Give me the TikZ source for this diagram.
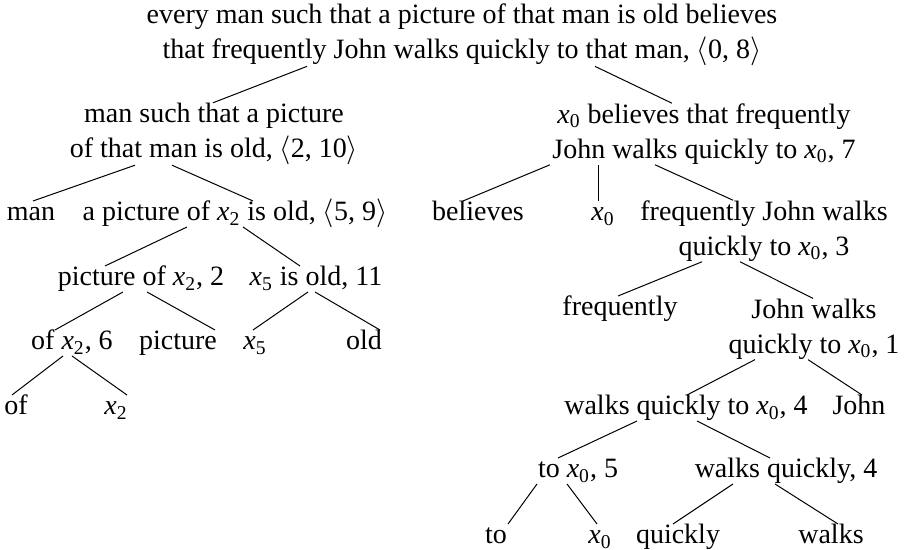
\documentclass[tikz,border=0pt]{standalone}
\usepackage{fontspec}
\setmainfont{Liberation Serif}
\newcommand{\xsub}[1]{\textit{x}\textsubscript{#1}}
\newcommand{\lang}{\ensuremath{\langle}}
\newcommand{\rang}{\ensuremath{\rangle}}
\tikzset{
  lbl/.style={inner sep=0pt, font=\fontsize{14}{17.5}\selectfont, align=center},
  one/.style={lbl, text height=9.8pt, text depth=2.8pt},
  link/.style={line width=0.5pt}
}
\begin{document}
\begin{tikzpicture}[x=0.5pt,y=-0.5pt]
  \useasboundingbox (0,0) rectangle (906,550);
  % top of the analysis
  \node[lbl] (root) at (462,35) {every man such that a picture of that man is old believes\\that frequently John walks quickly to that man, \lang0, 8\rang};
  \node[lbl] (mst) at (214,134) {man such that a picture\\of that man is old, \lang2, 10\rang};
  \node[lbl] (bel) at (704,134) {\xsub{0} believes that frequently\\John walks quickly to \xsub{0}, 7};
  % left branch
  \node[one] (man) at (31,214) {man};
  \node[one] (apic) at (235,214) {a picture of \xsub{2} is old, \lang5, 9\rang};
  \node[one] (picof) at (141,279) {picture of \xsub{2}, 2};
  \node[one] (xold) at (316,279) {\xsub{5} is old, 11};
  \node[one] (ofx) at (72,343) {of \xsub{2}, 6};
  \node[one] (pic) at (178,343) {picture};
  \node[one] (xfive) at (255,343) {\xsub{5}};
  \node[one] (old) at (364,343) {old};
  \node[one] (of) at (16,408) {of};
  \node[one] (xtwo) at (116,408) {\xsub{2}};
  % right branch
  \node[one] (believes) at (478,214) {believes};
  \node[one] (xzero) at (603,214) {\xsub{0}};
  \node[lbl] (fjw) at (764,231) {frequently John walks\\quickly to \xsub{0}, 3};
  \node[one] (freq) at (620,309) {frequently};
  \node[lbl] (jw) at (814,329) {John walks\\quickly to \xsub{0}, 1};
  \node[one] (wq) at (686,408) {walks quickly to \xsub{0}, 4};
  \node[one] (john) at (859,408) {John};
  \node[one] (tox) at (578,471) {to \xsub{0}, 5};
  \node[one] (wqk) at (786,471) {walks quickly, 4};
  \node[one] (to) at (496,537) {to};
  \node[one] (xzerob) at (600,537) {\xsub{0}};
  \node[one] (quickly) at (678,537) {quickly};
  \node[one] (walks) at (831,537) {walks};
  % branches
  \draw[link] ([shift={(-155,0)}]root.south) -- ([shift={(-1,0)}]mst.north);
  \draw[link] ([shift={(133,0)}]root.south) -- ([shift={(-32,0)}]bel.north);
  \draw[link] ([shift={(-79,0)}]mst.south) -- ([shift={(2,0)}]man.north);
  \draw[link] ([shift={(-42,0)}]mst.south) -- ([shift={(18,0)}]apic.north);
  \draw[link] ([shift={(-48,0)}]apic.south) -- ([shift={(-36,0)}]picof.north);
  \draw[link] ([shift={(8,0)}]apic.south) -- ([shift={(-16,0)}]xold.north);
  \draw[link] ([shift={(-18,0)}]picof.south) -- ([shift={(-17,0)}]ofx.north);
  \draw[link] ([shift={(6,0)}]picof.south) -- ([shift={(37,0)}]pic.north);
  \draw[link] ([shift={(-8,0)}]xold.south) -- ([shift={(-2,0)}]xfive.north);
  \draw[link] ([shift={(-1,0)}]xold.south) -- ([shift={(16,0)}]old.north);
  \draw[link] ([shift={(-9,0)}]ofx.south) -- ([shift={(-4,0)}]of.north);
  \draw[link] (ofx.south) -- ([shift={(11,0)}]xtwo.north);
  \draw[link] ([shift={(-154,0)}]bel.south) -- ([shift={(-15,0)}]believes.north);
  \draw[link] ([shift={(-106,0)}]bel.south) -- ([shift={(-5,0)}]xzero.north);
  \draw[link] ([shift={(-49,0)}]bel.south) -- ([shift={(-31,0)}]fjw.north);
  \draw[link] ([shift={(-62,0)}]fjw.south) -- ([shift={(-2,0)}]freq.north);
  \draw[link] ([shift={(-24,0)}]fjw.south) -- ([shift={(-1,0)}]jw.north);
  \draw[link] ([shift={(-59,0)}]jw.south) -- ([shift={(1,0)}]wq.north);
  \draw[link] ([shift={(-6,0)}]jw.south) -- ([shift={(3,0)}]john.north);
  \draw[link] ([shift={(-49,0)}]wq.south) -- ([shift={(-20,0)}]tox.north);
  \draw[link] ([shift={(11,0)}]wq.south) -- ([shift={(-16,0)}]wqk.north);
  \draw[link] ([shift={(-41,0)}]tox.south) -- ([shift={(12,0)}]to.north);
  \draw[link] ([shift={(-11,0)}]tox.south) -- ([shift={(-3,0)}]xzerob.north);
  \draw[link] ([shift={(-53,0)}]wqk.south) -- ([shift={(-5,0)}]quickly.north);
  \draw[link] ([shift={(-11,0)}]wqk.south) -- ([shift={(7,0)}]walks.north);
\end{tikzpicture}
\end{document}
